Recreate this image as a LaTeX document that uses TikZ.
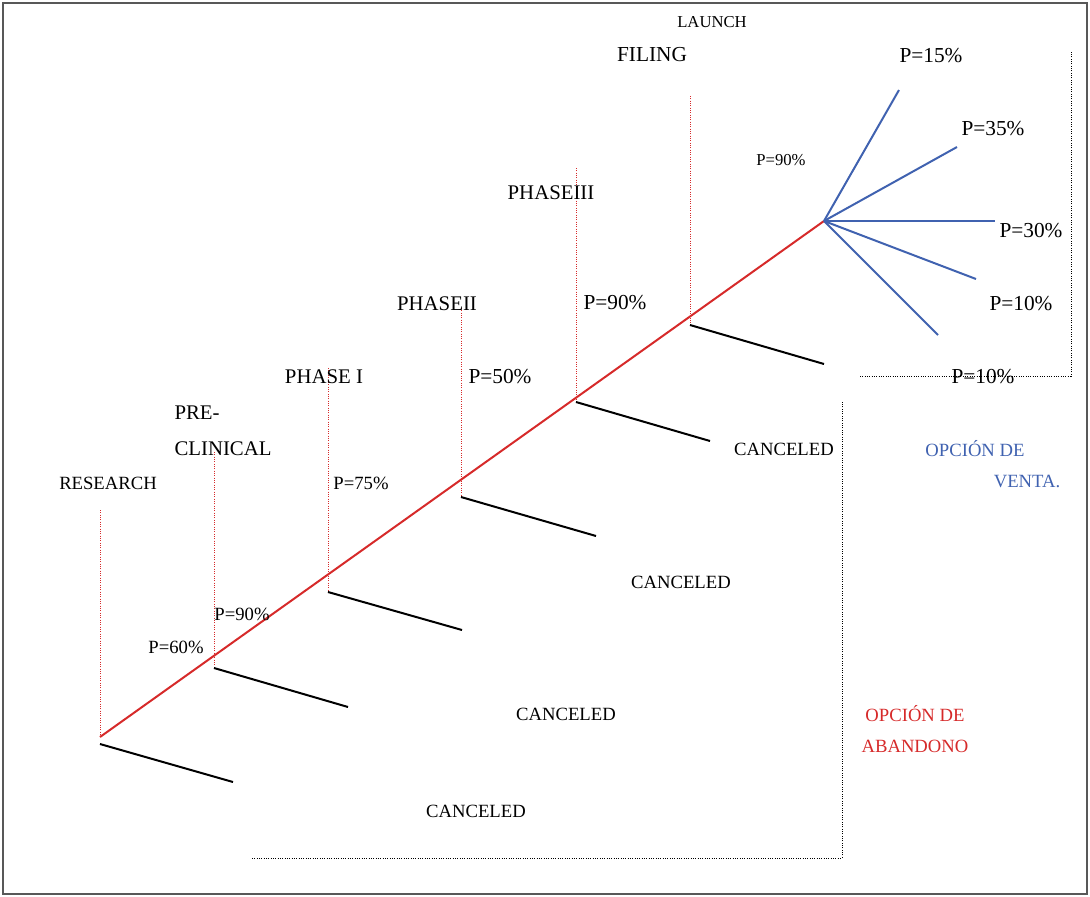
\documentclass[tikz,border=0pt]{standalone}
\usepackage{fontspec}
\setmainfont{Liberation Serif}
\usetikzlibrary{positioning}
\definecolor{mainred}{RGB}{214,42,42}
\definecolor{sellblue}{RGB}{64,98,176}
\definecolor{framegray}{RGB}{88,88,88}
\tikzset{every picture/.style={line width=0.75pt}}
\tikzset{
  lbl/.style={inner sep=0.75pt, font=\fontsize{14}{16}\selectfont},
  phaselbl/.style={inner sep=0.75pt, font=\fontsize{15.6}{18}\selectfont},
  biglbl/.style={inner sep=0.75pt, font=\fontsize{16}{18}\selectfont},
  smalllbl/.style={inner sep=0.75pt, font=\fontsize{12.5}{14}\selectfont},
  stageline/.style={draw=mainred, line width=0.75pt, densely dotted},
  cancelline/.style={draw=black, line width=1.5pt},
  saleline/.style={draw=sellblue, line width=1.5pt},
  bracketline/.style={draw=black, line width=0.75pt, densely dotted},
}

\begin{document}
\begin{tikzpicture}[x=0.75pt,y=0.75pt,yscale=-1,xscale=1]
\useasboundingbox (0,0) rectangle (1090,897);

%Frame
\draw [framegray, line width=1.8pt] (3,3) rectangle (1087,894);

%Stage points
\coordinate (researchTop) at (100,510);
\coordinate (researchPt) at (100,737);
\coordinate (researchEnd) at (100,744);
\coordinate (researchCut) at (233,782);
\coordinate (preTop) at (214,452);
\coordinate (prePt) at (214,668);
\coordinate (preCut) at (348,707);
\coordinate (phaseOneTop) at (328,368);
\coordinate (phaseOnePt) at (328,592);
\coordinate (phaseOneCut) at (462,630);
\coordinate (phaseTwoTop) at (461,308);
\coordinate (phaseTwoPt) at (461,497);
\coordinate (phaseTwoCut) at (596,536);
\coordinate (phaseThreeTop) at (576,168);
\coordinate (phaseThreePt) at (576,402);
\coordinate (phaseThreeCut) at (710,441);
\coordinate (filingTop) at (690,96);
\coordinate (filingPt) at (690,325);
\coordinate (filingCut) at (824,364);
\coordinate (launchPt) at (824,221);

%Sale ends
\coordinate (saleA) at (899,90);
\coordinate (saleB) at (957,147);
\coordinate (saleC) at (995,221);
\coordinate (saleD) at (976,279);
\coordinate (saleE) at (938,335);

%Bracket corners
\coordinate (saleBrStart) at (860,376);
\coordinate (saleBrCorner) at (1071,376);
\coordinate (saleBrEnd) at (1071,52);
\coordinate (dropBrStart) at (252,858);
\coordinate (dropBrCorner) at (842,858);
\coordinate (dropBrEnd) at (842,402);

%Dotted stage lines
\draw [stageline] (researchTop) -- (researchPt);
\draw [stageline] (preTop) -- (prePt);
\draw [stageline] (phaseOneTop) -- (phaseOnePt);
\draw [stageline] (phaseTwoTop) -- (phaseTwoPt);
\draw [stageline] (phaseThreeTop) -- (phaseThreePt);
\draw [stageline] (filingTop) -- (filingPt);

%Main line
\draw [mainred, line width=1.5pt] (researchPt) -- (launchPt);

%Canceled lines
\draw [cancelline] (researchEnd) -- (researchCut);
\draw [cancelline] (prePt) -- (preCut);
\draw [cancelline] (phaseOnePt) -- (phaseOneCut);
\draw [cancelline] (phaseTwoPt) -- (phaseTwoCut);
\draw [cancelline] (phaseThreePt) -- (phaseThreeCut);
\draw [cancelline] (filingPt) -- (filingCut);

%Sale lines
\draw [saleline] (launchPt) -- (saleA);
\draw [saleline] (launchPt) -- (saleB);
\draw [saleline] (launchPt) -- (saleC);
\draw [saleline] (launchPt) -- (saleD);
\draw [saleline] (launchPt) -- (saleE);

%Brackets
\draw [bracketline] (saleBrStart) -- (saleBrCorner) -- (saleBrEnd);
\draw [bracketline] (dropBrStart) -- (dropBrCorner) -- (dropBrEnd);

% Text Node
\node [smalllbl] (launch) at (712,22) {LAUNCH};
\node [biglbl] (filing) at (652,55) {FILING};
\node [phaselbl] (phaseThree) at (551,193) {PHASEIII};
\node [phaselbl] (phaseTwo) at (437,304) {PHASEII};
\node [phaselbl] (phaseOne) at (324,377) {PHASE I};
\node [phaselbl, anchor=west] (pre) at (173,413) {PRE-};
\node [phaselbl, anchor=west] (clinical) at (173,449) {CLINICAL};
\node [lbl] (research) at (108,483) {RESEARCH};

% Text Node
\node [lbl] (pSixty) at (176,647) {P=60\%};
\node [lbl] (pNinetyA) at (242,614) {P=90\%};
\node [lbl] (pSeventyFive) at (361,483) {P=75\%};
\node [biglbl] (pFifty) at (500,377) {P=50\%};
\node [biglbl] (pNinetyB) at (615,303) {P=90\%};
\node [smalllbl] (pNinetyC) at (781,160) {P=90\%};

% Text Node
\node [biglbl] (pFifteen) at (931,56) {P=15\%};
\node [biglbl] (pThirtyFive) at (993,129) {P=35\%};
\node [biglbl] (pThirty) at (1031,231) {P=30\%};
\node [biglbl] (pTenA) at (1021,304) {P=10\%};
\node [biglbl] (pTenB) at (983,377) {P=10\%};

% Text Node
\node [lbl] (cancelA) at (784,449) {CANCELED};
\node [lbl] (cancelB) at (681,582) {CANCELED};
\node [lbl] (cancelC) at (566,714) {CANCELED};
\node [lbl] (cancelD) at (476,811) {CANCELED};

% Text Node
\node [lbl, text=sellblue] (saleOpt) at (975,449) {OPCIÓN DE};
\node [lbl, text=sellblue] (saleWord) at (1027,481) {VENTA.};
\node [lbl, text=mainred] (dropOpt) at (915,714) {OPCIÓN DE};
\node [lbl, text=mainred] (dropWord) at (915,746) {ABANDONO};

\end{tikzpicture}
\end{document}
